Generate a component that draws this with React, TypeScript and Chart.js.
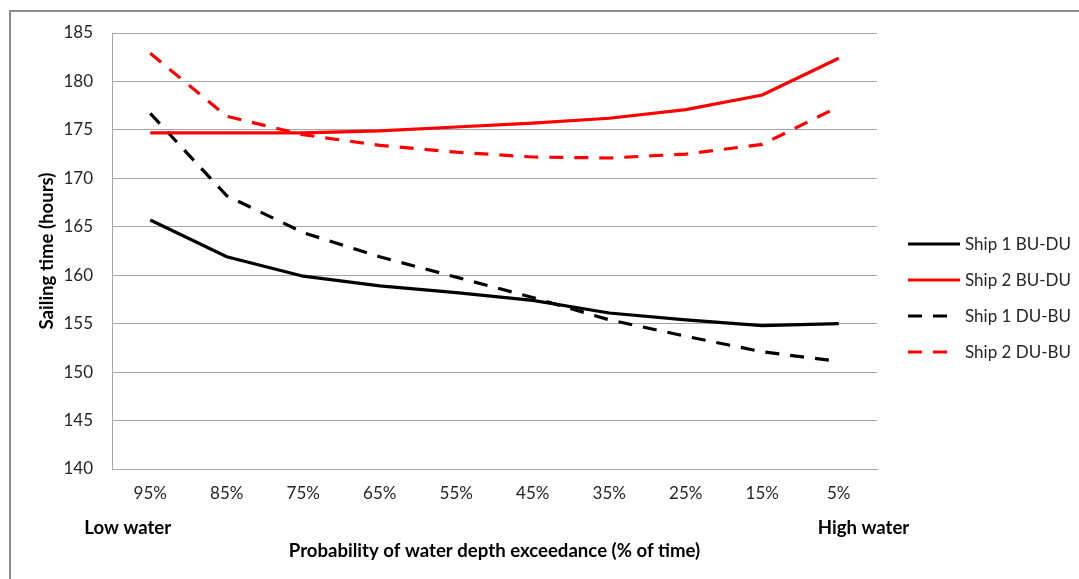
import React, { useEffect, useRef } from "react";
import { Chart, registerables } from "chart.js";

Chart.register(...registerables);

const categories = ["95%", "85%", "75%", "65%", "55%", "45%", "35%", "25%", "15%", "5%"];
const ship1BuDu = [165.7, 161.9, 159.9, 158.9, 158.2, 157.4, 156.1, 155.4, 154.8, 155.0];
const ship2BuDu = [174.7, 174.7, 174.7, 174.9, 175.3, 175.7, 176.2, 177.1, 178.6, 182.4];
const ship1DuBu = [176.7, 168.2, 164.4, 161.9, 159.8, 157.7, 155.4, 153.7, 152.1, 151.1];
const ship2DuBu = [182.9, 176.4, 174.5, 173.4, 172.7, 172.2, 172.1, 172.5, 173.5, 177.4];
const seriesNames = ["Ship 1 BU-DU", "Ship 2 BU-DU", "Ship 1 DU-BU", "Ship 2 DU-BU"];
const yMin = 140;
const yMax = 185;
const yStep = 5;
const xAxisTitle = "Probability of water depth exceedance (% of time)";
const yAxisTitle = "Sailing time (hours)";
const lowLabel = "Low water";
const highLabel = "High water";

const FONT = "Lato, 'Open Sans', sans-serif";
const W = 1079;
const H = 579;
const GRID = "#a6a6a6";
const DASH = [14, 11];
const BOLD_SIZE = 18.6;

const extrasPlugin = {
  id: "extras",
  beforeDraw(chart: any) {
    const ctx = chart.ctx;
    ctx.save();
    ctx.fillStyle = "#ffffff";
    ctx.fillRect(0, 0, chart.width, chart.height);
    ctx.strokeStyle = "#8c8c8c";
    ctx.lineWidth = 2;
    ctx.beginPath();
    ctx.moveTo(10, chart.height + 5);
    ctx.lineTo(10, 11);
    ctx.lineTo(chart.width + 5, 11);
    ctx.stroke();
    ctx.restore();
  },
  afterDraw(chart: any) {
    const ctx = chart.ctx;
    const xs = chart.scales.x;
    ctx.save();
    const rows = [244, 280, 316, 352];
    chart.data.datasets.forEach((ds: any, i: number) => {
      const y = rows[i];
      ctx.strokeStyle = ds.borderColor;
      ctx.lineWidth = ds.borderWidth;
      const dashed = ds.borderDash && ds.borderDash.length > 0;
      ctx.setLineDash(dashed ? DASH : []);
      ctx.beginPath();
      ctx.moveTo(908, y);
      ctx.lineTo(dashed ? 948 : 960, y);
      ctx.stroke();
      ctx.setLineDash([]);
      ctx.fillStyle = "#262626";
      ctx.font = `17px ${FONT}`;
      ctx.textAlign = "left";
      ctx.textBaseline = "middle";
      ctx.fillText(ds.label, 965, y + 1);
    });
    ctx.fillStyle = "#000000";
    ctx.font = `bold ${BOLD_SIZE}px ${FONT}`;
    ctx.textBaseline = "middle";
    ctx.textAlign = "left";
    const first = xs.getPixelForValue(0);
    const last = xs.getPixelForValue(categories.length - 1);
    ctx.fillText(lowLabel, first - 66, 528);
    ctx.fillText(highLabel, last - 21, 528);
    ctx.restore();
  },
};

export default function App() {
  const ref = useRef<HTMLCanvasElement | null>(null);
  useEffect(() => {
    if (!ref.current) return;
    const mk = (label: string, data: number[], color: string, dashed: boolean) => ({
      label,
      data,
      borderColor: color,
      backgroundColor: color,
      borderWidth: 3.2,
      borderDash: dashed ? DASH : [],
      pointRadius: 0,
      fill: false,
      tension: 0,
    });
    const chart = new Chart(ref.current, {
      type: "line",
      data: {
        labels: categories,
        datasets: [
          mk(seriesNames[0], ship1BuDu, "#000000", false),
          mk(seriesNames[1], ship2BuDu, "#ff0000", false),
          mk(seriesNames[2], ship1DuBu, "#000000", true),
          mk(seriesNames[3], ship2DuBu, "#ff0000", true),
        ],
      },
      options: {
        responsive: false,
        animation: false,
        devicePixelRatio: 1,
        layout: { padding: { left: 0, top: 33, right: W - 877, bottom: 0 } },
        plugins: {
          legend: { display: false },
          tooltip: { enabled: false },
          title: { display: false },
        },
        scales: {
          x: {
            type: "category",
            offset: true,
            afterFit: (s: any) => {
              s.height = H - 469;
            },
            grid: { display: false, drawTicks: false },
            border: { display: true, color: GRID, width: 1 },
            ticks: {
              color: "#262626",
              font: { family: FONT, size: 17 },
              padding: 14,
              maxRotation: 0,
              autoSkip: false,
            },
            title: {
              display: true,
              text: xAxisTitle,
              color: "#000000",
              font: { family: FONT, size: BOLD_SIZE, weight: "bold" },
              padding: { top: 0, bottom: 17 },
            },
          },
          y: {
            min: yMin,
            max: yMax,
            afterFit: (s: any) => {
              s.width = 112;
            },
            grid: { color: GRID, lineWidth: 1, drawTicks: false },
            border: { display: true, color: GRID, width: 1 },
            ticks: {
              stepSize: yStep,
              color: "#262626",
              font: { family: FONT, size: 17 },
              padding: 19,
            },
            title: {
              display: true,
              text: yAxisTitle,
              color: "#000000",
              font: { family: FONT, size: BOLD_SIZE, weight: "bold" },
              padding: { top: 36, bottom: 0 },
            },
          },
        },
      },
      plugins: [extrasPlugin],
    });
    return () => chart.destroy();
  }, []);
  return (
    <div style={{ position: "fixed", left: 0, top: 0, width: W, height: H, overflow: "hidden", background: "#fff" }}>
      <canvas ref={ref} width={W} height={H} style={{ display: "block", width: W, height: H }} />
    </div>
  );
}
